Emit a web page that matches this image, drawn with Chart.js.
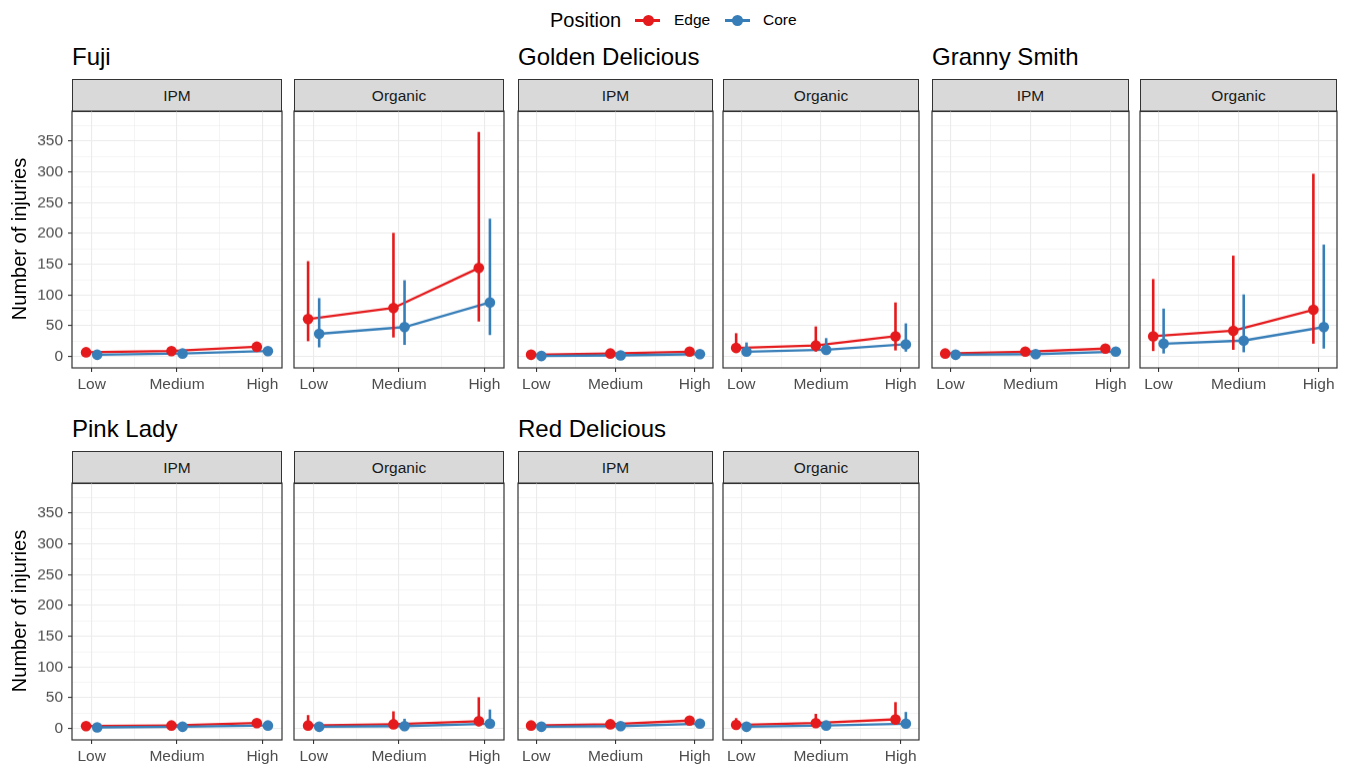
<!DOCTYPE html>
<html lang="en">
<head>
<meta charset="UTF-8" />
<title>Number of injuries by position</title>
<script src="https://cdn.jsdelivr.net/npm/chart.js"></script>
<style>
  body { margin: 0; background: #fff; font-family: "Liberation Sans", Arial, sans-serif; }
  #page { position: relative; width: 1347px; height: 764px; overflow: hidden; }
  .title { position: absolute; font-size: 24px; line-height: 24px; color: #000; white-space: nowrap; }
  .strip { position: absolute; box-sizing: border-box; height: 33px; background: #d9d9d9; border: 1.2px solid #333;
           font-size: 15.5px; color: #1a1a1a; display: flex; align-items: center; justify-content: center; }
  .ylab { position: absolute; width: 240px; height: 24px; line-height: 24px; text-align: center; font-size: 20px;
          transform: rotate(-90deg); white-space: nowrap; }
  .legtxt { position: absolute; white-space: nowrap; line-height: 20px; }
  .keyline { position: absolute; height: 2.5px; }
  .keydot { position: absolute; width: 11px; height: 11px; border-radius: 50%; }
  canvas { position: absolute; }
</style>
</head>
<body>
<div id="page"></div>
<script>
  // data
  const levels = ['Low', 'Medium', 'High'];
  const varieties = ['Fuji', 'Golden Delicious', 'Granny Smith', 'Pink Lady', 'Red Delicious'];
  const systems = ['IPM', 'Organic'];
  // one triple per panel, panels in order: variety x system
  const edgeMean = [[7, 9, 16], [61, 79, 144], [3, 5, 8], [14, 18, 33], [5, 8, 13],
                    [33, 42, 76], [4, 5, 9], [5, 7, 12], [5, 7, 13], [6, 9, 15]];
  const edgeLow  = [[4, 6, 11], [25, 31, 57], [1, 2, 4], [6, 8, 10], [3, 5, 9],
                    [9, 11, 21], [2, 3, 5], [1, 1, 4], [3, 4, 8], [2, 3, 6]];
  const edgeHigh = [[11, 14, 23], [155, 201, 365], [6, 9, 14], [38, 49, 88], [9, 12, 19],
                    [126, 164, 297], [7, 9, 15], [22, 28, 51], [9, 11, 19], [17, 24, 43]];
  const coreMean = [[3, 5, 9], [37, 48, 88], [1, 2, 4], [8, 11, 20], [3, 4, 8],
                    [21, 26, 48], [2, 3, 5], [3, 4, 8], [3, 4, 8], [3, 5, 8]];
  const coreLow  = [[1, 3, 6], [15, 19, 35], [0, 1, 2], [2, 4, 8], [1, 2, 5],
                    [5, 7, 13], [1, 1, 3], [1, 1, 2], [1, 2, 5], [1, 1, 3]];
  const coreHigh = [[6, 8, 13], [95, 124, 224], [3, 4, 7], [23, 30, 54], [5, 7, 12],
                    [78, 101, 182], [4, 5, 9], [9, 16, 31], [5, 7, 12], [8, 12, 27]];
  const yTicks = [0, 25, 50, 75, 100, 125, 150, 175, 200, 225, 250, 275, 300, 325, 350, 375];

  const EDGE = '#e41a1c', CORE = '#377eb8';
  const DODGE = 0.065;

  // layout
  const colBoxes = [[[72, 210], [294, 210]], [[518, 195], [723, 196]], [[932, 197], [1140, 197]]];
  const rowTops = [111, 483];
  const PLOT_H = 256.5, PAD = 24, YAXIS_W = 50, XAXIS_H = 30;

  const page = document.getElementById('page');
  function addDiv(cls, style, text) {
    const d = document.createElement('div');
    d.className = cls;
    Object.assign(d.style, style);
    if (text) d.textContent = text;
    page.appendChild(d);
    return d;
  }

  // legend
  addDiv('legtxt', { left: '550px', top: '10px', fontSize: '20px', color: '#000' }, 'Position');
  addDiv('keyline', { left: '635px', top: '19px', width: '25px', background: EDGE });
  addDiv('keydot', { left: '643px', top: '14.5px', background: EDGE });
  addDiv('legtxt', { left: '674px', top: '10px', fontSize: '15.5px', color: '#000' }, 'Edge');
  addDiv('keyline', { left: '725px', top: '19px', width: '25px', background: CORE });
  addDiv('keydot', { left: '732px', top: '14.5px', background: CORE });
  addDiv('legtxt', { left: '763px', top: '10px', fontSize: '15.5px', color: '#000' }, 'Core');

  const isMajorY = v => v % 50 === 0 && v <= 350;
  const isMajorX = v => Number.isInteger(v);

  const panelPlugin = {
    id: 'panelPlugin',
    beforeDatasetDraw(chart, args) {
      const ds = chart.data.datasets[args.index];
      if (!ds.lo) return;
      const ctx = chart.ctx, xs = chart.scales.x, ys = chart.scales.y, a = chart.chartArea;
      ctx.save();
      ctx.beginPath();
      ctx.rect(a.left, a.top, a.right - a.left, a.bottom - a.top);
      ctx.clip();
      ctx.strokeStyle = ds.backgroundColor;
      ctx.lineWidth = 2.6;
      ds.data.forEach((p, i) => {
        const x = xs.getPixelForValue(p.x);
        ctx.beginPath();
        ctx.moveTo(x, ys.getPixelForValue(ds.lo[i]));
        ctx.lineTo(x, ys.getPixelForValue(ds.hi[i]));
        ctx.stroke();
      });
      ctx.restore();
    },
    afterDraw(chart) {
      const ctx = chart.ctx, a = chart.chartArea;
      ctx.save();
      ctx.strokeStyle = '#333';
      ctx.lineWidth = 1.2;
      ctx.strokeRect(a.left, a.top, a.right - a.left, a.bottom - a.top);
      ctx.restore();
    }
  };

  function pts(vals, off) {
    return vals.map((v, i) => ({ x: i + 1 + off, y: v }));
  }

  function makeChart(p, left, top, width, first) {
    const yw = first ? YAXIS_W : 0;
    const c = document.createElement('canvas');
    const cw = width + yw + 2 * PAD, ch = PLOT_H + PAD + XAXIS_H;
    c.width = cw; c.height = ch;
    c.style.left = (left - PAD - yw) + 'px';
    c.style.top = (top - PAD) + 'px';
    c.style.width = cw + 'px'; c.style.height = ch + 'px';
    page.appendChild(c);

    const tickFont = { family: '"Liberation Sans", Arial, sans-serif', size: 15.5 };
    new Chart(c, {
      type: 'scatter',
      data: {
        datasets: [
          { data: pts(edgeMean[p], -DODGE), showLine: true, borderColor: EDGE, borderWidth: 2.3, pointRadius: 0, order: 4 },
          { data: pts(coreMean[p], DODGE), showLine: true, borderColor: CORE, borderWidth: 2.3, pointRadius: 0, order: 3 },
          { data: pts(edgeMean[p], -DODGE), lo: edgeLow[p], hi: edgeHigh[p], backgroundColor: EDGE, borderWidth: 0, pointRadius: 5.3, order: 2 },
          { data: pts(coreMean[p], DODGE), lo: coreLow[p], hi: coreHigh[p], backgroundColor: CORE, borderWidth: 0, pointRadius: 5.3, order: 1 }
        ]
      },
      options: {
        responsive: false, animation: false, events: [],
        layout: { padding: { left: PAD, right: PAD, top: PAD, bottom: 0 } },
        plugins: { legend: { display: false }, tooltip: { enabled: false } },
        scales: {
          x: {
            type: 'linear', min: 0.77, max: 3.23,
            afterBuildTicks: a => { a.ticks = [1, 1.5, 2, 2.5, 3].map(v => ({ value: v })); },
            afterFit: a => { a.height = XAXIS_H; },
            ticks: {
              autoSkip: false, maxRotation: 0, padding: 3, color: '#4d4d4d', font: tickFont,
              callback: v => isMajorX(v) ? levels[v - 1] : ''
            },
            grid: {
              color: '#ebebeb', tickLength: 4, tickWidth: 1.1,
              lineWidth: ctx => ctx.tick && isMajorX(ctx.tick.value) ? 1.1 : 0.55,
              tickColor: ctx => ctx.tick && isMajorX(ctx.tick.value) ? '#333' : 'rgba(0,0,0,0)'
            },
            border: { display: false }
          },
          y: {
            type: 'linear', min: -18.4, max: 398.8,
            afterBuildTicks: a => { a.ticks = yTicks.map(v => ({ value: v })); },
            afterFit: a => { a.width = yw; },
            ticks: {
              display: first, autoSkip: false, padding: 5, color: '#4d4d4d', font: tickFont,
              callback: v => isMajorY(v) ? String(v) : ''
            },
            grid: {
              color: '#ebebeb', drawTicks: first, tickLength: 4, tickWidth: 1.1,
              lineWidth: ctx => ctx.tick && isMajorY(ctx.tick.value) ? 1.1 : 0.55,
              tickColor: ctx => ctx.tick && isMajorY(ctx.tick.value) ? '#333' : 'rgba(0,0,0,0)'
            },
            border: { display: false }
          }
        }
      },
      plugins: [panelPlugin]
    });
  }

  varieties.forEach((name, vi) => {
    const row = vi < 3 ? 0 : 1, col = vi % 3;
    const top = rowTops[row];
    const boxes = colBoxes[col];
    addDiv('title', { left: boxes[0][0] + 'px', top: (top - 66.3) + 'px' }, name);
    systems.forEach((sys, si) => {
      const [left, width] = boxes[si];
      addDiv('strip', { left: left + 'px', top: (top - 32) + 'px', width: width + 'px' }, sys);
      makeChart(vi * 2 + si, left, top, width, col === 0 && si === 0);
    });
    if (col === 0) {
      addDiv('ylab', { left: (18.5 - 120) + 'px', top: (top + PLOT_H / 2 - 12) + 'px' }, 'Number of injuries');
    }
  });
</script>
</body>
</html>
